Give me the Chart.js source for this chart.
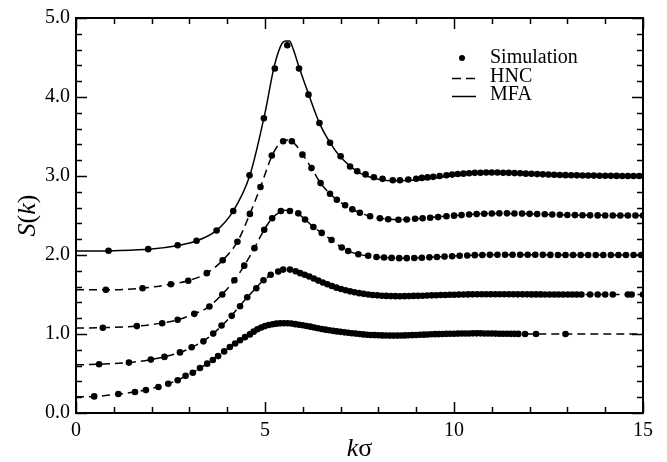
<!DOCTYPE html>
<html>
<head>
<meta charset="utf-8">
<script src="https://cdn.jsdelivr.net/npm/chart.js@4/dist/chart.umd.min.js"></script>
<style>
  html, body { margin: 0; padding: 0; background: #fff; }
  #wrap { width: 667px; height: 462px; }
</style>
</head>
<body>
<div id="wrap"><canvas id="sk" width="667" height="462"></canvas></div>
<script>
// tick labels
const xTickLabels = ['0', '5', '10', '15'];
const yTickLabels = ['0.0', '1.0', '2.0', '3.0', '4.0', '5.0'];
const legendLabels = ['Simulation', 'HNC', 'MFA'];

// simulation points, one pair of arrays per curve (bottom to top)
const simK1 = [0.48, 1.12, 1.56, 1.85, 2.18, 2.44, 2.69, 2.9, 3.09, 3.28, 3.47, 3.62, 3.76, 3.92, 4.07, 4.21, 4.34, 4.47,
  4.6, 4.7, 4.8, 4.9, 5.0, 5.1, 5.2, 5.3, 5.4, 5.5, 5.6, 5.7, 5.8, 5.9, 6.0, 6.1, 6.2, 6.3, 6.4, 6.5, 6.6, 6.7, 6.8, 6.9,
  7.0, 7.1, 7.2, 7.3, 7.4, 7.5, 7.6, 7.7, 7.8, 7.9, 8.0, 8.1, 8.2, 8.3, 8.4, 8.5, 8.6, 8.7, 8.8, 8.9,
  9.0, 9.1, 9.2, 9.3, 9.4, 9.5, 9.6, 9.7, 9.8, 9.9, 10.0, 10.1, 10.2, 10.3, 10.4, 10.5, 10.6, 10.7, 10.8, 10.9,
  11.0, 11.1, 11.2, 11.3, 11.4, 11.5, 11.6, 11.7, 11.88, 12.17, 12.95];
const simS1 = [0.21, 0.24, 0.265, 0.29, 0.33, 0.37, 0.415, 0.47, 0.51, 0.57, 0.625, 0.67, 0.72, 0.78, 0.835, 0.88, 0.92, 0.96,
  0.995, 1.03, 1.06, 1.083, 1.10, 1.114, 1.124, 1.131, 1.135, 1.137, 1.136, 1.132, 1.125, 1.117, 1.11, 1.101, 1.093, 1.083, 1.073, 1.064, 1.055, 1.047, 1.04, 1.033,
  1.027, 1.021, 1.015, 1.01, 1.005, 1.0, 0.995, 0.991, 0.988, 0.986, 0.984, 0.982, 0.981, 0.98, 0.98, 0.98, 0.981, 0.982, 0.984, 0.986,
  0.988, 0.99, 0.992, 0.994, 0.996, 0.998, 0.999, 1.0, 1.002, 1.003, 1.004, 1.005, 1.006, 1.007, 1.007, 1.008, 1.008, 1.008, 1.007, 1.007,
  1.006, 1.005, 1.004, 1.004, 1.003, 1.002, 1.002, 1.001, 1.0, 1.0, 1.0];

const simK2 = [0.61, 1.40, 1.98, 2.34, 2.75, 3.06, 3.37, 3.63, 3.85, 4.12, 4.34, 4.53, 4.77, 4.96, 5.15, 5.35, 5.48, 5.66, 5.81,
  5.93, 6.05, 6.17, 6.29, 6.41, 6.53, 6.65, 6.77, 6.89, 7.01, 7.13, 7.25, 7.37, 7.49, 7.61, 7.73, 7.85, 7.97, 8.09, 8.21,
  8.33, 8.45, 8.57, 8.69, 8.81, 8.93, 9.05, 9.17, 9.29, 9.41, 9.53, 9.65, 9.77, 9.89, 10.01, 10.13, 10.25, 10.37, 10.49, 10.61,
  10.73, 10.85, 10.97, 11.09, 11.21, 11.33, 11.45, 11.57, 11.69, 11.81, 11.93, 12.05, 12.17, 12.29, 12.41, 12.53, 12.65, 12.77, 12.89, 13.01,
  13.13, 13.25, 13.37, 13.6, 13.8, 14.0, 14.2, 14.6, 14.7, 15.0];
const simS2 = [0.617, 0.638, 0.676, 0.71, 0.767, 0.832, 0.907, 1.005, 1.108, 1.23, 1.352, 1.465, 1.58, 1.68, 1.75, 1.79, 1.815, 1.815, 1.795,
  1.77, 1.75, 1.728, 1.703, 1.676, 1.652, 1.63, 1.607, 1.587, 1.569, 1.553, 1.54, 1.528, 1.517, 1.508, 1.50, 1.494, 1.489, 1.485, 1.482,
  1.48, 1.479, 1.478, 1.479, 1.48, 1.482, 1.483, 1.485, 1.487, 1.489, 1.491, 1.493, 1.494, 1.496, 1.497, 1.499, 1.5, 1.501, 1.502, 1.503,
  1.504, 1.504, 1.504, 1.504, 1.504, 1.503, 1.503, 1.503, 1.502, 1.502, 1.502, 1.501, 1.501, 1.501, 1.5, 1.5, 1.5, 1.5, 1.5, 1.5,
  1.5, 1.5, 1.5, 1.5, 1.5, 1.5, 1.5, 1.5, 1.5, 1.5];

const simK3 = [0.71, 1.61, 2.28, 2.69, 3.13, 3.53, 3.87, 4.19, 4.45, 4.72, 4.98, 5.19, 5.42, 5.66, 5.88, 6.06, 6.28, 6.5, 6.76, 7.03, 7.2, 7.47, 7.73,
  7.95, 8.15, 8.35, 8.55, 8.75, 8.95, 9.15, 9.35, 9.55, 9.75, 9.95, 10.15, 10.35, 10.55, 10.75, 10.95, 11.15, 11.35, 11.55, 11.75,
  11.95, 12.15, 12.35, 12.55, 12.75, 12.95, 13.15, 13.35, 13.55, 13.75, 13.95, 14.15, 14.35, 14.55, 14.75, 14.95];
const simS3 = [1.08, 1.10, 1.137, 1.18, 1.255, 1.348, 1.50, 1.68, 1.865, 2.087, 2.32, 2.465, 2.557, 2.557, 2.527, 2.45, 2.355, 2.28, 2.19, 2.095, 2.05, 2.01, 1.99,
  1.975, 1.968, 1.963, 1.96, 1.96, 1.962, 1.966, 1.97, 1.975, 1.98, 1.985, 1.99, 1.994, 1.998, 2.0, 2.002, 2.003, 2.004, 2.004, 2.004,
  2.003, 2.003, 2.002, 2.001, 2.0, 2.0, 2.0, 2.0, 2.0, 2.0, 2.0, 2.0, 2.0, 2.0, 2.0, 2.0];

const simK4 = [0.79, 1.76, 2.51, 2.97, 3.46, 3.88, 4.27, 4.6, 4.88, 5.18, 5.48, 5.71, 5.99, 6.23, 6.47, 6.72, 6.9, 7.12, 7.31, 7.51,
  7.78, 8.04, 8.26, 8.53, 8.75, 8.97, 9.17, 9.37, 9.58, 9.8, 10.0, 10.2, 10.4, 10.6, 10.8, 11.0, 11.2, 11.4, 11.6, 11.8,
  12.0, 12.2, 12.4, 12.6, 12.8, 13.0, 13.2, 13.4, 13.6, 13.8, 14.0, 14.2, 14.4, 14.6, 14.8, 15.0];
const simS4 = [1.56, 1.58, 1.63, 1.675, 1.77, 1.933, 2.168, 2.52, 2.86, 3.26, 3.44, 3.44, 3.27, 3.10, 2.91, 2.775, 2.70, 2.63, 2.578, 2.535,
  2.49, 2.465, 2.452, 2.447, 2.45, 2.458, 2.465, 2.472, 2.48, 2.49, 2.498, 2.505, 2.512, 2.518, 2.522, 2.525, 2.527, 2.527, 2.526, 2.524,
  2.521, 2.518, 2.515, 2.512, 2.51, 2.507, 2.505, 2.503, 2.502, 2.501, 2.5, 2.5, 2.5, 2.5, 2.5, 2.5];

const simK5 = [0.86, 1.91, 2.69, 3.19, 3.72, 4.16, 4.59, 4.97, 5.26, 5.59, 5.9, 6.15, 6.44, 6.72, 7.0, 7.25, 7.44, 7.66, 7.88, 8.11, 8.38, 8.57, 8.79,
  9.0, 9.15, 9.3, 9.45, 9.62, 9.8, 9.95, 10.1, 10.25, 10.4, 10.55, 10.7, 10.85, 11.0, 11.15, 11.3, 11.45, 11.6, 11.75, 11.9,
  12.05, 12.2, 12.35, 12.5, 12.65, 12.8, 12.95, 13.1, 13.25, 13.4, 13.55, 13.7, 13.85, 14.0, 14.15, 14.3, 14.45, 14.6, 14.75, 14.9];
const simS5 = [2.053, 2.074, 2.124, 2.18, 2.31, 2.557, 3.01, 3.73, 4.36, 4.655, 4.36, 4.03, 3.67, 3.42, 3.25, 3.12, 3.06, 3.02, 2.985, 2.964, 2.947, 2.947, 2.956,
  2.966, 2.976, 2.982, 2.989, 3.0, 3.01, 3.018, 3.025, 3.03, 3.035, 3.04, 3.042, 3.044, 3.045, 3.044, 3.042, 3.04, 3.037, 3.034, 3.03,
  3.027, 3.024, 3.021, 3.018, 3.015, 3.013, 3.011, 3.01, 3.008, 3.007, 3.006, 3.005, 3.004, 3.003, 3.002, 3.001, 3.0, 3.0, 3.0, 3.0];

// theory curves: HNC (dashed) for the lower four, MFA (solid) for the top one
const hncK1 = [0, 0.5, 1, 1.5, 2, 2.5, 3, 3.5, 4, 4.5, 5, 5.25, 5.5, 5.75, 6, 6.5, 7, 7.5, 8, 8.5, 9, 10, 11, 12, 13, 14, 15];
const hncS1 = [0.205, 0.21, 0.232, 0.262, 0.31, 0.38, 0.49, 0.635, 0.81, 0.97, 1.10, 1.127, 1.137, 1.13, 1.108, 1.064, 1.027, 1.0, 0.984, 0.98, 0.988, 1.004, 1.006, 1.001, 1.0, 1.0, 1.0];

const hncK2 = [0, 0.6, 1.4, 2, 2.5, 3, 3.5, 4, 4.5, 5, 5.3, 5.57, 5.8, 6, 6.5, 7, 7.5, 8, 8.5, 9, 10, 11, 12, 13, 15];
const hncS2 = [0.61, 0.617, 0.638, 0.678, 0.73, 0.815, 0.955, 1.175, 1.447, 1.695, 1.785, 1.818, 1.797, 1.76, 1.655, 1.57, 1.516, 1.488, 1.478, 1.483, 1.498, 1.504, 1.501, 1.5, 1.5];

const hncK3 = [0, 0.7, 1.6, 2.3, 2.7, 3.1, 3.5, 3.9, 4.2, 4.45, 4.72, 4.98, 5.2, 5.42, 5.54, 5.66, 5.88, 6.06, 6.28, 6.5, 6.76, 7.03, 7.2, 7.47, 7.73, 8.0, 8.5, 9.0, 9.5, 10, 11, 12, 13, 15];
const hncS3 = [1.075, 1.08, 1.10, 1.14, 1.18, 1.25, 1.34, 1.52, 1.685, 1.865, 2.087, 2.32, 2.47, 2.55, 2.565, 2.555, 2.52, 2.45, 2.355, 2.28, 2.19, 2.095, 2.05, 2.01, 1.988, 1.972, 1.96, 1.962, 1.974, 1.986, 2.003, 2.003, 2.0, 2.0];

const hncK4 = [0, 0.8, 1.76, 2.5, 3.0, 3.46, 3.88, 4.27, 4.6, 4.88, 5.18, 5.4, 5.6, 5.8, 6.0, 6.23, 6.47, 6.72, 6.9, 7.12, 7.31, 7.51, 7.78, 8.04, 8.5, 9, 9.5, 10, 11, 12, 13, 15];
const hncS4 = [1.56, 1.56, 1.58, 1.63, 1.678, 1.77, 1.933, 2.168, 2.52, 2.86, 3.25, 3.42, 3.455, 3.40, 3.27, 3.10, 2.91, 2.775, 2.70, 2.63, 2.578, 2.535, 2.49, 2.465, 2.447, 2.458, 2.48, 2.498, 2.525, 2.52, 2.506, 2.5];

const mfaK5 = [0, 1, 2, 2.7, 3.2, 3.7, 4.15, 4.6, 5.0, 5.25, 5.45, 5.55, 5.65, 5.75, 5.9, 6.15, 6.45, 6.75, 7.0, 7.5, 8.0, 8.5, 9.0, 9.5, 10, 10.5, 11, 11.5, 12, 13, 14, 15];
const mfaS5 = [2.05, 2.055, 2.075, 2.12, 2.18, 2.305, 2.55, 3.01, 3.8, 4.4, 4.68, 4.71, 4.71, 4.6, 4.38, 4.04, 3.66, 3.40, 3.24, 3.04, 2.96, 2.94, 2.95, 2.975, 3.005, 3.03, 3.04, 3.035, 3.02, 3.005, 3.0, 3.0];

const SERIF = '"Liberation Serif", "DejaVu Serif", serif';

function pts(ks, ss) {
  return ks.map((k, i) => ({ x: k, y: ss[i] }));
}

function simSet(ks, ss) {
  return {
    data: pts(ks, ss),
    showLine: false,
    pointRadius: 3.3,
    pointBackgroundColor: '#000',
    pointBorderWidth: 0,
    order: 0,
  };
}

function lineSet(ks, ss, dashed) {
  return {
    data: pts(ks, ss),
    showLine: true,
    pointRadius: 0,
    borderColor: '#000',
    borderWidth: 1.5,
    borderDash: dashed ? [8, 5] : [],
    cubicInterpolationMode: 'monotone',
    order: 1,
  };
}

// frame with inward ticks on all four sides, axis titles and legend
const framePlugin = {
  id: 'frame',
  afterDraw(chart) {
    const ctx = chart.ctx;
    const a = chart.chartArea;
    const xs = chart.scales.x;
    const ys = chart.scales.y;
    ctx.save();
    ctx.strokeStyle = '#000';
    ctx.lineWidth = 2;
    ctx.strokeRect(a.left, a.top, a.right - a.left, a.bottom - a.top);

    ctx.lineWidth = 1.5;
    ctx.beginPath();
    for (let k = 0; k <= 15; k++) {
      const px = Math.round(xs.getPixelForValue(k)) + 0.5;
      const len = k % 5 === 0 ? 11 : 6;
      ctx.moveTo(px, a.bottom); ctx.lineTo(px, a.bottom - len);
      ctx.moveTo(px, a.top); ctx.lineTo(px, a.top + len);
    }
    for (let i = 0; i <= 25; i++) {
      const py = Math.round(ys.getPixelForValue(i * 0.2)) + 0.5;
      const len = i % 5 === 0 ? 11 : 6;
      ctx.moveTo(a.left, py); ctx.lineTo(a.left + len, py);
      ctx.moveTo(a.right, py); ctx.lineTo(a.right - len, py);
    }
    ctx.stroke();

    // x title: italic k + upright sigma
    ctx.fillStyle = '#000';
    ctx.textBaseline = 'alphabetic';
    const cx = (a.left + a.right) / 2;
    ctx.font = 'italic 26px ' + SERIF;
    const wk = ctx.measureText('k').width;
    ctx.font = '26px ' + SERIF;
    const ws = ctx.measureText('σ').width;
    const x0 = cx - (wk + ws) / 2;
    ctx.font = 'italic 26px ' + SERIF;
    ctx.fillText('k', x0, 456);
    ctx.font = '26px ' + SERIF;
    ctx.fillText('σ', x0 + wk, 456);

    // y title: S(k), rotated
    ctx.save();
    ctx.translate(35, (a.top + a.bottom) / 2);
    ctx.rotate(-Math.PI / 2);
    const parts = [['S', true], ['(', false], ['k', true], [')', false]];
    let total = 0;
    parts.forEach(p => {
      ctx.font = (p[1] ? 'italic ' : '') + '26px ' + SERIF;
      total += ctx.measureText(p[0]).width;
    });
    let tx = -total / 2;
    parts.forEach(p => {
      ctx.font = (p[1] ? 'italic ' : '') + '26px ' + SERIF;
      ctx.fillText(p[0], tx, 0);
      tx += ctx.measureText(p[0]).width;
    });
    ctx.restore();

    // legend
    ctx.font = '20px ' + SERIF;
    ctx.textBaseline = 'middle';
    ctx.fillText(legendLabels[0], 490, 58);
    ctx.fillText(legendLabels[1], 490, 77);
    ctx.fillText(legendLabels[2], 490, 95);
    ctx.beginPath();
    ctx.arc(462, 58, 3, 0, Math.PI * 2);
    ctx.fill();
    ctx.lineWidth = 1.5;
    ctx.setLineDash([9, 5]);
    ctx.beginPath();
    ctx.moveTo(452, 78.5); ctx.lineTo(476, 78.5);
    ctx.stroke();
    ctx.setLineDash([]);
    ctx.beginPath();
    ctx.moveTo(452, 96.5); ctx.lineTo(476, 96.5);
    ctx.stroke();
    ctx.restore();
  },
};

const ctx = document.getElementById('sk').getContext('2d');
new Chart(ctx, {
  type: 'scatter',
  data: {
    datasets: [
      simSet(simK1, simS1),
      simSet(simK2, simS2),
      simSet(simK3, simS3),
      simSet(simK4, simS4),
      simSet(simK5, simS5),
      lineSet(hncK1, hncS1, true),
      lineSet(hncK2, hncS2, true),
      lineSet(hncK3, hncS3, true),
      lineSet(hncK4, hncS4, true),
      lineSet(mfaK5, mfaS5, false),
    ],
  },
  options: {
    responsive: false,
    animation: false,
    layout: { padding: { top: 16, right: 24, left: 0, bottom: 0 } },
    plugins: {
      legend: { display: false },
      tooltip: { enabled: false },
    },
    scales: {
      x: {
        type: 'linear',
        min: 0,
        max: 15,
        grid: { display: false, drawTicks: false },
        border: { display: false },
        ticks: {
          stepSize: 5,
          padding: 6,
          color: '#000',
          font: { family: SERIF, size: 20 },
          maxRotation: 0,
          callback: (v) => xTickLabels[v / 5],
        },
        afterFit: (s) => { s.height = 49; },
      },
      y: {
        type: 'linear',
        min: 0,
        max: 5,
        grid: { display: false, drawTicks: false },
        border: { display: false },
        ticks: {
          stepSize: 1,
          padding: 6,
          color: '#000',
          font: { family: SERIF, size: 20 },
          callback: (v) => yTickLabels[Math.round(v)],
        },
        afterFit: (s) => { s.width = 76; },
      },
    },
  },
  plugins: [framePlugin],
});
</script>
</body>
</html>
